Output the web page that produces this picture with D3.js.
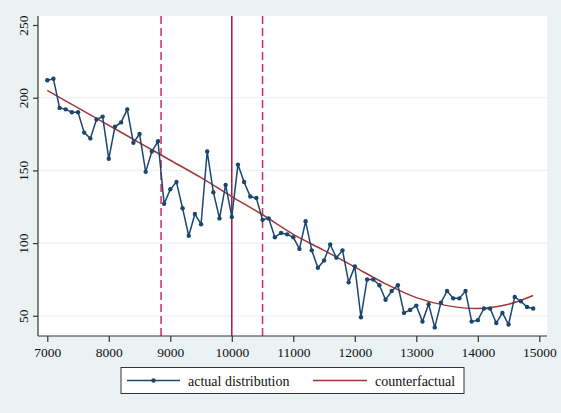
<!DOCTYPE html>
<html>
<head>
<meta charset="utf-8">
<script src="https://cdn.jsdelivr.net/npm/d3@7"></script>
<style>
  body { margin: 0; background: #eaf2f3; }
  svg { display: block; font-family: "Liberation Serif", "Times New Roman", serif; }
</style>
</head>
<body>
<svg id="chart" width="561" height="413"></svg>
<script>
/*---------------------------- data ----------------------------*/

//bin start points (x categories)
var bins = d3.range(7000, 15000, 100);

//actual counts per bin
var actual = [
    212, 213, 193, 192, 190, 190, 176, 172, 185, 187, // 7000-7900
    158, 180, 183, 192, 169, 175, 149, 163, 170, 127, // 8000-8900
    137, 142, 124, 105, 120, 113, 163, 135, 117, 140, // 9000-9900
    118, 154, 142, 132, 131, 116, 117, 104, 107, 106, // 10000-10900
    104, 96, 115, 95, 83, 88, 99, 90, 95, 73,          // 11000-11900
    84, 49, 75, 75, 71, 61, 67, 71, 52, 54,            // 12000-12900
    57, 46, 58, 42, 59, 67, 62, 62, 67, 46,            // 13000-13900
    47, 55, 55, 45, 52, 44, 63, 60, 56, 55             // 14000-14900
];

//counterfactual curve
var cfX = [7000, 7500, 8000, 8500, 9000, 9500, 10000, 10500, 11000, 11500, 12000, 12500, 13000, 13500, 14000, 14500, 14900];
var cfY = [205, 193, 181, 169, 157, 145, 132, 119.5, 106, 95, 83.5, 72, 62.5, 57, 55, 58, 64];

//reference lines
var dashedAt = [8850, 10500];
var solidAt = 10000;

//ticks
var xTicks = [7000, 8000, 9000, 10000, 11000, 12000, 13000, 14000, 15000];
var yTicks = [50, 100, 150, 200, 250];
var gridTicks = [50, 100, 150, 200];

//legend labels
var legendLabels = ["actual distribution", "counterfactual"];

/*---------------------------- chart ----------------------------*/

var plot = { left: 38, right: 547, top: 16, bottom: 336 };

var x = d3.scaleLinear().domain([6849, 15125]).range([plot.left, plot.right]);
var y = d3.scaleLinear().domain([36.1, 256.2]).range([plot.bottom, plot.top]);

var svg = d3.select("#chart");

//plot region
svg.append("rect")
    .attr("x", plot.left).attr("y", plot.top)
    .attr("width", plot.right - plot.left).attr("height", plot.bottom - plot.top)
    .style("fill", "white");

//gridlines
svg.selectAll(".grid")
    .data(gridTicks)
    .enter().append("line")
    .attr("class", "grid")
    .attr("x1", plot.left).attr("x2", plot.right)
    .attr("y1", function (d) { return y(d); })
    .attr("y2", function (d) { return y(d); })
    .style("stroke", "#eaf2f3")
    .style("stroke-width", 1.2);

//vertical reference lines
svg.selectAll(".dashed")
    .data(dashedAt)
    .enter().append("line")
    .attr("x1", function (d) { return x(d); })
    .attr("x2", function (d) { return x(d); })
    .attr("y1", plot.top).attr("y2", plot.bottom)
    .style("stroke", "#d02a58")
    .style("stroke-width", 1.5)
    .style("stroke-dasharray", "8,4");

svg.append("line")
    .attr("x1", x(solidAt)).attr("x2", x(solidAt))
    .attr("y1", plot.top).attr("y2", plot.bottom)
    .style("stroke", "#a8163f")
    .style("stroke-width", 1.5);

//counterfactual curve
var cfLine = d3.line()
    .x(function (d) { return x(d[0]); })
    .y(function (d) { return y(d[1]); })
    .curve(d3.curveCatmullRom);

svg.append("path")
    .datum(d3.zip(cfX, cfY))
    .attr("d", cfLine)
    .style("fill", "none")
    .style("stroke", "#a3363c")
    .style("stroke-width", 1.5);

//actual distribution
var pts = d3.zip(bins, actual);
var line = d3.line()
    .x(function (d) { return x(d[0]); })
    .y(function (d) { return y(d[1]); });

svg.append("path")
    .datum(pts)
    .attr("d", line)
    .style("fill", "none")
    .style("stroke", "#1a476f")
    .style("stroke-width", 1.5);

svg.selectAll(".marker")
    .data(pts)
    .enter().append("circle")
    .attr("class", "marker")
    .attr("cx", function (d) { return x(d[0]); })
    .attr("cy", function (d) { return y(d[1]); })
    .attr("r", 2.2)
    .style("fill", "#1a476f");

//axes
var xAxis = svg.append("g")
    .attr("transform", "translate(0," + plot.bottom + ")")
    .call(d3.axisBottom(x).tickValues(xTicks).tickFormat(d3.format("d")).tickSize(6).tickPadding(5).tickSizeOuter(0));

var yAxis = svg.append("g")
    .attr("transform", "translate(" + plot.left + ",0)")
    .call(d3.axisLeft(y).tickValues(yTicks).tickSize(5).tickSizeOuter(0));

xAxis.select(".domain").attr("d", "M" + plot.left + ",0H" + plot.right);
yAxis.select(".domain").attr("d", "M0," + plot.top + "V" + plot.bottom);

[xAxis, yAxis].forEach(function (ax) {
    ax.select(".domain").style("stroke", "#333").style("stroke-width", 1.2);
    ax.selectAll(".tick line").style("stroke", "#333").style("stroke-width", 1.2);
    ax.selectAll("text")
        .style("font-family", "Liberation Serif, serif")
        .style("font-size", "13.5px")
        .style("fill", "#111");
});

//rotate y tick labels
yAxis.selectAll(".tick text")
    .attr("x", null).attr("dy", null)
    .attr("text-anchor", "middle")
    .attr("transform", "translate(-10,0) rotate(-90)");

/*---------------------------- legend ----------------------------*/

var legend = svg.append("g");

legend.append("rect")
    .attr("x", 121).attr("y", 367.5)
    .attr("width", 343).attr("height", 26)
    .style("fill", "white")
    .style("stroke", "#333")
    .style("stroke-width", 1);

legend.append("line")
    .attr("x1", 127).attr("x2", 180).attr("y1", 380.5).attr("y2", 380.5)
    .style("stroke", "#1a476f").style("stroke-width", 1.5);
legend.append("circle")
    .attr("cx", 153.5).attr("cy", 380.5).attr("r", 2.2)
    .style("fill", "#1a476f");

legend.append("line")
    .attr("x1", 313).attr("x2", 367).attr("y1", 380.5).attr("y2", 380.5)
    .style("stroke", "#a3363c").style("stroke-width", 1.5);

legend.selectAll(".label")
    .data(legendLabels)
    .enter().append("text")
    .attr("class", "label")
    .attr("x", function (d, i) { return i == 0 ? 188 : 375; })
    .attr("y", 385.5)
    .style("font-size", "14px")
    .style("fill", "#111")
    .text(function (d) { return d; });
</script>
</body>
</html>
